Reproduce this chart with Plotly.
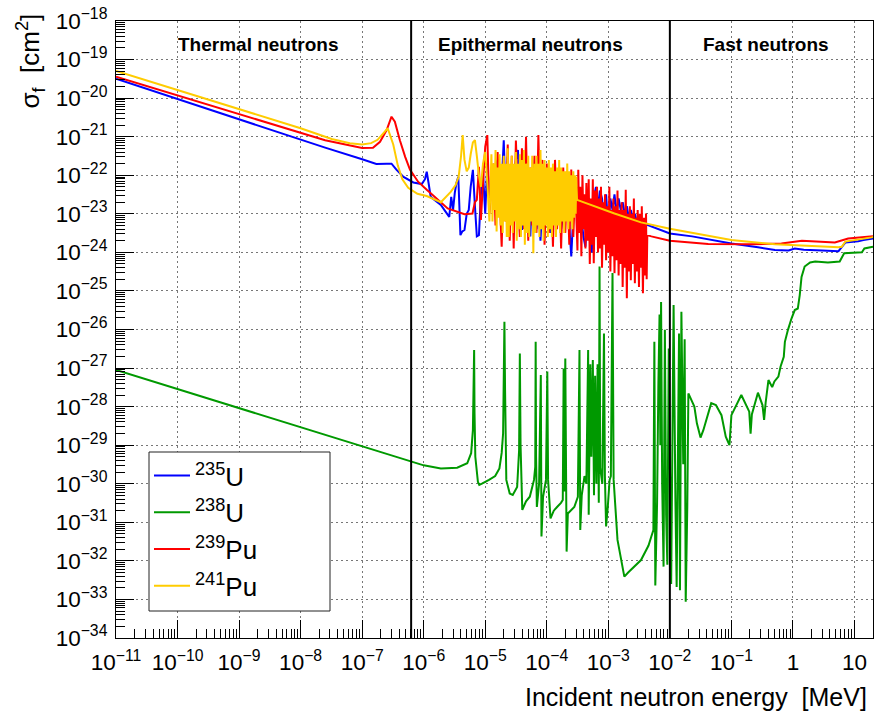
import math
import plotly.graph_objects as go

# ---------------- data ----------------
# energies in MeV, fission cross sections in cm^2
u235_energy = [
    1e-11, 2.5e-8, 1e-7, 1.7e-7, 2.5e-7, 3.0e-7, 3.6e-7, 4.7e-7, 6.8e-7, 9.3e-7,
    1.05e-6, 1.12e-6, 1.2e-6, 1.3e-6, 1.9e-6, 2.6e-6, 2.8e-6, 3.0e-6, 3.2e-6, 3.4e-6,
    3.65e-6, 3.95e-6, 4.25e-6, 4.6e-6, 5.0e-6, 5.4e-6, 5.8e-6, 6.3e-6, 6.8e-6, 7.3e-6, 7.9e-6, 8.5e-6, 9.2e-6,
    1.0e-5, 1.08e-5, 1.17e-5, 1.26e-5, 1.36e-5, 1.47e-5, 1.59e-5, 1.71e-5, 1.85e-5, 2.0e-5,
    2.15e-5, 2.32e-5, 2.5e-5, 2.7e-5, 2.9e-5, 3.15e-5, 3.4e-5, 3.65e-5, 3.95e-5, 4.25e-5,
    4.6e-5, 5.0e-5, 5.4e-5, 5.8e-5, 6.3e-5, 6.8e-5, 7.3e-5, 7.9e-5, 8.5e-5, 9.2e-5,
    1.0e-4, 1.08e-4, 1.17e-4, 1.26e-4, 1.36e-4, 1.47e-4, 1.59e-4, 1.71e-4, 1.85e-4, 2.0e-4,
    2.15e-4, 2.32e-4, 2.5e-4, 2.7e-4, 2.9e-4, 3.15e-4, 3.4e-4, 3.65e-4, 3.95e-4, 4.25e-4,
    4.6e-4, 5.0e-4, 5.4e-4, 5.8e-4, 6.3e-4, 6.8e-4, 7.3e-4, 7.9e-4, 8.5e-4, 9.2e-4,
    1.0e-3, 1.08e-3, 1.17e-3, 1.26e-3, 1.36e-3, 1.47e-3, 1.59e-3, 1.71e-3, 1.85e-3, 2.0e-3,
    2.15e-3, 2.32e-3, 2.5e-3, 2.7e-3, 2.9e-3, 3.15e-3, 3.4e-3, 3.65e-3,
    4.0e-3, 1.0e-2, 2.3e-2, 1.0e-1, 0.27, 0.51, 0.85, 1.07, 1.5, 3.0, 5.5, 6.3, 7.1, 11.5, 14.0, 20.0,
]
u235_xs = [
    3.2e-20, 5.2e-22, 2.6e-22, 1.95e-22, 2.0e-22, 2.0e-22, 1.4e-22, 9.1e-23, 6.5e-23, 5.9e-23,
    7.9e-23, 1.23e-22, 6.3e-23, 2.75e-23, 1.7e-23, 8.3e-24, 2.75e-23, 1.26e-23, 3.5e-23, 6.3e-23,
    9.1e-23, 2.8e-24, 3.5e-24, 3.8e-24, 1.0e-23, 1.26e-23, 5.0e-23, 1.38e-22, 1.58e-23, 2.6e-24, 2.8e-24, 3.2e-23, 1.12e-22,
    1.0e-23, 2.0e-22, 2.5e-23, 4.0e-23, 2.0e-23, 1.58e-22, 2.5e-22, 1.26e-23, 6.3e-23, 8.1e-22,
    2.0e-23, 3.0e-22, 4.6e-24, 1.58e-23, 4.0e-23, 2.5e-22, 4.5e-22, 3.2e-23, 3.8e-24, 1.26e-23,
    1.26e-22, 1.58e-23, 2.6e-24, 5.0e-23, 1.58e-22, 4.0e-24, 1.26e-23, 2.0e-24, 2.0e-23, 6.3e-23,
    1.0e-22, 6.3e-24, 3.2e-24, 2.5e-23, 1.0e-23, 7.9e-23, 2.0e-23, 4.0e-24, 1.0e-23, 5.0e-23,
    1.12e-22, 5.0e-24, 7.8e-25, 1.0e-23, 3.2e-23, 5.0e-23, 6.3e-24, 7.9e-24, 2.5e-24, 1.4e-24,
    1.26e-23, 2.5e-24, 1.0e-24, 2.5e-23, 5.0e-23, 1.58e-23, 4.0e-23, 2.5e-23, 5.0e-24, 3.2e-23,
    4.0e-24, 2.5e-23, 1.26e-23, 3.2e-23, 1.0e-23, 2.5e-23, 1.26e-23, 2.0e-23, 1.0e-23, 1.58e-23,
    7.9e-24, 1.26e-23, 7.1e-24, 1.0e-23, 6.3e-24, 7.9e-24, 5.6e-24, 6.3e-24,
    5.4e-24, 3.1e-24, 2.6e-24, 1.7e-24, 1.35e-24, 1.15e-24, 1.12e-24, 1.26e-24, 1.17e-24, 1.12e-24,
    1.07e-24, 1.4e-24, 1.8e-24, 1.95e-24, 2.1e-24, 2.3e-24,
]

u238_energy = [
    1e-11, 1e-6, 1.9e-6, 3.5e-6, 5.1e-6, 5.9e-6, 6.3e-6, 6.6e-6, 6.7e-6, 6.9e-6,
    7.6e-6, 8.0e-6, 9.0e-6, 1.15e-5, 1.45e-5, 1.7e-5, 1.85e-5, 1.95e-5, 2.05e-5, 2.1e-5,
    2.2e-5, 2.5e-5, 2.8e-5, 3.3e-5, 3.55e-5, 3.65e-5, 3.75e-5, 4.0e-5, 4.6e-5, 5.3e-5,
    6.2e-5, 6.5e-5, 6.6e-5, 6.7e-5, 6.9e-5, 7.5e-5, 8.0e-5, 8.2e-5, 8.7e-5, 9.7e-5,
    1.02e-4, 1.05e-4, 1.15e-4, 1.3e-4, 1.47e-4, 1.7e-4, 1.82e-4, 1.88e-4, 1.92e-4, 2.0e-4,
    2.1e-4, 2.2e-4, 2.8e-4, 3.2e-4, 3.4e-4, 3.5e-4, 3.7e-4, 4.1e-4, 4.4e-4, 4.7e-4,
    4.8e-4, 5.1e-4, 5.3e-4, 5.6e-4, 5.85e-4, 6.1e-4, 6.4e-4, 6.7e-4, 7.0e-4, 7.2e-4,
    7.4e-4, 8.0e-4, 8.5e-4, 8.8e-4, 9.2e-4, 9.8e-4, 1.05e-3, 1.1e-3, 1.17e-3, 1.22e-3,
    1.41e-3, 1.82e-3, 2.1e-3, 3.4e-3, 4.5e-3, 5.0e-3, 5.4e-3, 5.6e-3, 5.8e-3, 6.2e-3,
    6.5e-3, 6.8e-3, 7.0e-3, 7.2e-3, 7.5e-3, 7.9e-3, 8.3e-3, 8.7e-3, 9.1e-3, 9.6e-3,
    1.05e-2, 1.15e-2, 1.23e-2, 1.29e-2, 1.41e-2, 1.46e-2, 1.54e-2, 1.65e-2, 1.74e-2, 1.81e-2,
    1.92e-2, 2.0e-2, 2.5e-2, 2.75e-2, 3.15e-2, 3.5e-2, 4.7e-2, 5.6e-2, 6.9e-2, 8.1e-2,
    9.3e-2, 1.0e-1, 1.45e-1, 1.95e-1, 2.05e-1, 2.15e-1, 2.7e-1, 3.2e-1, 3.4e-1, 3.6e-1,
    4.0e-1, 4.6e-1, 5.0e-1, 5.8e-1, 6.3e-1, 7.1e-1, 7.4e-1, 8.3e-1, 9.5e-1, 1.07,
    1.2, 1.29, 1.38, 1.55, 1.9, 2.3, 3.7, 5.75, 6.8, 13.2, 14.5, 20.0,
]
u238_xs = [
    8.9e-28, 3.0e-30, 2.5e-30, 2.6e-30, 3.4e-30, 6.2e-30, 2.45e-29, 2.95e-27, 6.8e-29, 5.0e-30,
    1.12e-30, 9.3e-31, 1.02e-30, 1.26e-30, 1.58e-30, 2.5e-30, 6.3e-30, 2.0e-29, 1.58e-26, 2.7e-28,
    1.26e-30, 5.6e-31, 5.1e-31, 8.3e-31, 7.4e-30, 2.4e-27, 1.0e-29, 2.1e-31, 3.5e-31, 4.6e-31,
    1.26e-30, 2.75e-30, 4.8e-27, 5.0e-30, 2.5e-31, 1.0e-30, 6.6e-28, 4.3e-32, 4.6e-31, 1.26e-30,
    8.1e-28, 1.26e-30, 1.26e-31, 2.0e-31, 2.5e-31, 3.2e-31, 3.8e-31, 9.8e-28, 6.3e-31, 1.78e-27,
    1.74e-32, 1.7e-31, 2.5e-31, 4.6e-31, 2.95e-27, 6.3e-32, 5.0e-31, 1.58e-30, 1.0e-30, 2.95e-27,
    1.58e-31, 1.26e-27, 5.0e-30, 1.62e-27, 5.0e-31, 6.3e-28, 1.0e-30, 1.26e-27, 3.2e-31, 4.3e-25,
    2.5e-30, 1.0e-30, 7.9e-27, 1.58e-30, 7.8e-32, 2.5e-31, 1.26e-30, 1.58e-30, 2.9e-25, 1.26e-30,
    3.5e-32, 3.9e-33, 5.0e-33, 1.05e-32, 2.5e-32, 4.3e-32, 6.3e-32, 4.8e-27, 2.3e-33, 3.2e-31,
    3.2e-28, 2.45e-26, 1.0e-29, 5.2e-26, 1.0e-30, 7.1e-33, 9.8e-27, 1.58e-31, 7.9e-33, 3.2e-27,
    2.5e-33, 4.3e-26, 4.0e-31, 2.1e-33, 7.9e-27, 1.74e-33, 2.9e-26, 3.2e-30, 5.6e-27, 8.7e-34,
    2.5e-31, 2.2e-28, 1.0e-28, 3.7e-29, 1.58e-29, 2.45e-29, 1.23e-28, 1.1e-28, 6.0e-29, 1.66e-29,
    1.0e-29, 6.0e-29, 2.0e-28, 7.4e-29, 2.0e-29, 6.3e-29, 2.3e-28, 1.1e-28, 4.5e-29, 1.26e-28,
    4.9e-28, 3.2e-28, 4.5e-28, 6.0e-28, 1.1e-27, 1.95e-27, 4.8e-27, 9.8e-27, 1.95e-26, 3.2e-26,
    3.5e-26, 7.8e-26, 2.3e-25, 4.3e-25, 5.5e-25, 5.8e-25, 5.5e-25, 5.8e-25, 9.5e-25, 1.0e-24, 1.26e-24, 1.4e-24,
]

pu239_energy = [
    1e-11, 2.5e-8, 1e-7, 1.5e-7, 1.95e-7, 2.5e-7, 3.0e-7, 3.4e-7, 4.1e-7, 5.0e-7,
    6.0e-7, 8.1e-7, 1.12e-6, 1.3e-6, 2.45e-6, 4.6e-6, 6.2e-6, 6.8e-6,
    7.3e-6, 7.9e-6, 8.5e-6, 9.2e-6,
    1.0e-5, 1.08e-5, 1.17e-5, 1.26e-5, 1.36e-5, 1.47e-5, 1.59e-5, 1.71e-5, 1.85e-5, 2.0e-5,
    2.15e-5, 2.32e-5, 2.5e-5, 2.7e-5, 2.9e-5, 3.15e-5, 3.4e-5, 3.65e-5, 3.95e-5, 4.25e-5,
    4.6e-5, 5.0e-5, 5.4e-5, 5.8e-5, 6.3e-5, 6.8e-5, 7.3e-5, 7.9e-5, 8.5e-5, 9.2e-5,
    1.0e-4, 1.08e-4, 1.17e-4, 1.26e-4, 1.36e-4, 1.47e-4, 1.59e-4, 1.71e-4, 1.85e-4, 2.0e-4,
    2.15e-4, 2.32e-4, 2.5e-4, 2.7e-4, 2.9e-4,
    3.15e-4, 3.25e-4, 3.4e-4, 3.5e-4, 3.65e-4, 3.8e-4, 3.95e-4, 4.1e-4, 4.25e-4, 4.4e-4,
    4.6e-4, 4.8e-4, 5.0e-4, 5.2e-4, 5.4e-4, 5.6e-4, 5.8e-4, 6.05e-4, 6.3e-4, 6.55e-4,
    6.8e-4, 7.05e-4, 7.3e-4, 7.6e-4, 7.9e-4, 8.2e-4, 8.5e-4, 8.85e-4, 9.2e-4, 9.6e-4,
    1.0e-3, 1.04e-3, 1.08e-3, 1.12e-3, 1.17e-3, 1.21e-3, 1.26e-3, 1.31e-3, 1.36e-3, 1.41e-3,
    1.47e-3, 1.53e-3, 1.59e-3, 1.65e-3, 1.71e-3, 1.78e-3, 1.85e-3, 1.92e-3, 2.0e-3, 2.07e-3,
    2.15e-3, 2.24e-3, 2.32e-3, 2.41e-3, 2.5e-3, 2.6e-3, 2.7e-3, 2.8e-3, 2.9e-3, 3.0e-3,
    3.15e-3, 3.25e-3, 3.4e-3, 3.5e-3, 3.65e-3, 3.8e-3, 3.95e-3, 4.1e-3, 4.2e-3, 4.3e-3,
    5.0e-3, 1.0e-2, 4.2e-2, 0.21, 0.65, 1.4, 4.8, 7.9, 20.0,
]
pu239_xs = [
    3.6e-20, 8.1e-22, 5.1e-22, 5.2e-22, 7.4e-22, 1.48e-21, 3.3e-21, 2.45e-21, 8.1e-22, 3.0e-22,
    1.38e-22, 6.8e-23, 4.2e-23, 3.4e-23, 1.38e-23, 9.8e-24, 1.02e-23, 2.0e-23,
    2.3e-23, 1.66e-22, 6.9e-24, 6.3e-23,
    5.5e-22, 1.1e-21, 1.0e-23, 5.0e-23, 2.0e-22, 5.0e-24, 4.0e-22, 3.2e-23, 1.4e-24, 2.5e-22,
    6.3e-24, 6.3e-22, 2.0e-24, 3.2e-22, 1.26e-24, 7.9e-22, 2.5e-23, 2.5e-24, 5.0e-22, 4.0e-24,
    1.0e-21, 2.0e-24, 1.58e-22, 5.0e-24, 3.2e-22, 3.2e-24, 1.1e-21, 6.3e-24, 2.5e-22, 1.58e-24,
    2.0e-22, 3.2e-24, 1.26e-22, 1.4e-24, 2.5e-22, 4.0e-24, 1.0e-22, 1.26e-24, 1.58e-22, 3.2e-24,
    7.9e-23, 1.58e-24, 1.4e-22, 2.5e-24, 6.3e-23,
    1.12e-24, 1.38e-22, 3.2e-24, 5.0e-23, 7.9e-25, 1.0e-22, 4.0e-24, 3.2e-23, 1.26e-24, 6.3e-23,
    2.0e-24, 7.9e-23, 5.0e-25, 2.5e-23, 1.58e-24, 7.9e-23, 5.2e-25, 4.0e-23, 2.5e-24, 5.0e-23,
    1.0e-24, 2.5e-23, 1.26e-24, 5.0e-23, 4.0e-25, 2.0e-23, 1.58e-24, 3.2e-23, 6.3e-25, 1.58e-23,
    1.0e-24, 5.0e-23, 3.2e-25, 1.26e-23, 7.9e-25, 2.5e-23, 2.9e-25, 1.58e-23, 6.3e-25, 4.0e-23,
    2.5e-25, 1.26e-23, 5.0e-25, 2.0e-23, 1.26e-25, 1.26e-23, 4.0e-25, 4.2e-23, 6.5e-26, 1.0e-23,
    3.2e-25, 1.58e-23, 1.9e-25, 1.0e-23, 5.0e-25, 2.5e-23, 1.58e-25, 7.9e-24, 3.2e-25, 1.26e-23,
    1.26e-25, 1.0e-23, 4.0e-25, 1.58e-23, 8.7e-26, 7.9e-24, 2.5e-25, 1.02e-23, 2.0e-25, 2.8e-24,
    2.6e-24, 2.0e-24, 1.66e-24, 1.62e-24, 1.7e-24, 2.0e-24, 1.8e-24, 2.3e-24, 2.6e-24,
]

pu241_energy = [
    1e-11, 1e-8, 3.2e-8, 6.3e-8, 1e-7, 1.4e-7, 1.78e-7, 2.24e-7, 2.6e-7, 3.2e-7,
    3.8e-7, 4.5e-7, 5.6e-7, 7.9e-7, 1.12e-6, 1.9e-6, 2.75e-6, 3.3e-6, 3.7e-6, 4.05e-6,
    4.3e-6, 4.6e-6, 5.0e-6, 5.4e-6, 5.8e-6, 6.3e-6, 6.8e-6, 7.3e-6, 7.9e-6, 8.5e-6, 9.2e-6,
    1.0e-5, 1.08e-5, 1.17e-5,
    1.26e-5, 1.31e-5, 1.36e-5, 1.41e-5, 1.47e-5, 1.53e-5, 1.59e-5, 1.65e-5, 1.71e-5, 1.78e-5,
    1.85e-5, 1.92e-5, 2.0e-5, 2.07e-5, 2.15e-5, 2.24e-5, 2.32e-5, 2.41e-5, 2.5e-5, 2.6e-5,
    2.7e-5, 2.8e-5, 2.9e-5, 3.0e-5, 3.15e-5, 3.25e-5, 3.4e-5, 3.5e-5, 3.65e-5, 3.8e-5,
    3.95e-5, 4.1e-5, 4.25e-5, 4.4e-5, 4.6e-5, 4.8e-5, 5.0e-5, 5.2e-5, 5.4e-5, 5.6e-5,
    5.8e-5, 6.05e-5, 6.3e-5, 6.55e-5, 6.8e-5, 7.05e-5, 7.3e-5, 7.6e-5, 7.9e-5, 8.2e-5,
    8.5e-5, 8.85e-5, 9.2e-5, 9.6e-5, 1.0e-4, 1.04e-4, 1.08e-4, 1.12e-4, 1.17e-4, 1.21e-4,
    1.26e-4, 1.31e-4, 1.36e-4, 1.41e-4, 1.47e-4, 1.53e-4, 1.59e-4, 1.65e-4, 1.71e-4, 1.78e-4,
    1.85e-4, 1.92e-4, 2.0e-4, 2.07e-4, 2.15e-4, 2.24e-4, 2.32e-4, 2.41e-4, 2.5e-4, 2.6e-4,
    2.7e-4, 2.8e-4, 2.9e-4, 2.95e-4, 3.0e-4, 3.1e-4,
    1.26e-3, 3.4e-3, 1e-2, 0.1, 0.51, 5.5, 6.2, 7.1, 19.0, 20.0,
]
pu241_xs = [
    5.1e-20, 1.66e-21, 8.7e-22, 6.8e-22, 6.3e-22, 6.8e-22, 8.3e-22, 1.26e-21, 1.66e-21, 6.3e-22,
    1.78e-22, 7.9e-23, 4.7e-23, 3.3e-23, 2.9e-23, 2.0e-23, 3.7e-23, 5.6e-23, 9.1e-23, 3.2e-22,
    1.1e-21, 2.5e-22, 1.26e-22, 1.58e-22, 3.5e-22, 7.1e-22, 8.1e-22, 3.2e-22, 1.0e-22, 5.0e-23, 2.0e-22,
    4.0e-22, 6.3e-23, 6.3e-24,
    3.5e-22, 6.3e-24, 2.0e-22, 1.26e-23, 4.5e-22, 3.5e-24, 1.58e-22, 7.9e-24, 3.5e-22, 5.0e-24,
    2.0e-22, 3.2e-24, 3.2e-22, 6.3e-24, 2.0e-22, 2.5e-24, 5.0e-22, 2.5e-24, 2.0e-22, 5.0e-24,
    3.2e-22, 3.2e-24, 2.0e-22, 6.3e-24, 4.0e-22, 2.0e-24, 2.0e-22, 4.0e-24, 3.5e-22, 2.5e-24,
    2.5e-22, 5.0e-24, 4.5e-22, 1.58e-24, 2.0e-22, 3.2e-24, 3.2e-22, 2.5e-24, 1.58e-22, 6.3e-24,
    3.2e-22, 9.5e-25, 2.0e-22, 3.2e-24, 3.2e-22, 5.0e-24, 2.0e-22, 2.5e-24, 4.5e-22, 4.0e-24,
    2.0e-22, 2.0e-24, 2.5e-22, 5.0e-24, 1.58e-22, 2.5e-24, 2.5e-22, 4.0e-24, 1.58e-22, 2.5e-24,
    2.0e-22, 5.0e-24, 1.26e-22, 2.5e-24, 1.58e-22, 5.0e-24, 2.5e-22, 3.2e-24, 1.58e-22, 6.3e-24,
    1.26e-22, 3.2e-24, 1.26e-22, 6.3e-24, 2.0e-22, 4.0e-24, 1.26e-22, 6.3e-24, 1.0e-22, 4.0e-24,
    1.26e-22, 7.9e-24, 1.0e-22, 1.0e-23, 9.1e-23, 2.3e-23,
    1.02e-23, 6.0e-24, 4.1e-24, 2.1e-24, 1.62e-24, 1.35e-24, 1.4e-24, 1.9e-24, 2.45e-24, 2.5e-24,
]

series_names = ["<sup>235</sup>U", "<sup>238</sup>U", "<sup>239</sup>Pu", "<sup>241</sup>Pu"]
region_labels = ["Thermal neutrons", "Epithermal neutrons", "Fast neutrons"]
region_label_energy = [2.0e-9, 5.5e-5, 0.36]
region_bounds = [6.25e-7, 1.0e-2]   # MeV
y_span = [1e-34, 1e-18]

# ---------------- figure ----------------
colors = ["#0000ff", "#009900", "#ff0000", "#ffcc00"]
fig = go.Figure()
for name, ex, ys, c in zip(series_names,
                           [u235_energy, u238_energy, pu239_energy, pu241_energy],
                           [u235_xs, u238_xs, pu239_xs, pu241_xs], colors):
    fig.add_trace(go.Scatter(x=ex, y=ys, mode="lines", name=name,
                             line=dict(color=c, width=2, simplify=False)))

for xb in region_bounds:
    fig.add_trace(go.Scatter(x=[xb, xb], y=y_span, mode="lines", showlegend=False,
                             line=dict(color="black", width=2), hoverinfo="skip"))

font_family = "Liberation Sans, Arial, Helvetica, sans-serif"
axis_common = dict(
    type="log", dtick=1, exponentformat="power",
    tickfont=dict(size=18, color="black", family=font_family),
    ticks="inside", ticklen=18, tickwidth=1, tickcolor="black",
    showline=True, linecolor="black", linewidth=1, mirror=True,
    showgrid=True, gridcolor="#777777", griddash="2px,3px", gridwidth=1,
    zeroline=False,
    minor=dict(ticks="inside", ticklen=9, tickcolor="black", tickwidth=1,
               dtick="D1", showgrid=False),
)
fig.update_xaxes(range=[-11, 1.301], ticklabelstandoff=5, **axis_common)
fig.update_yaxes(range=[-34, -18], ticklabelstandoff=4, **axis_common)

annotations = []
for lab, xe in zip(region_labels, region_label_energy):
    annotations.append(dict(x=math.log10(xe), y=0.962, xref="x", yref="paper",
                            text="<b>%s</b>" % lab, showarrow=False,
                            font=dict(size=19, family=font_family, color="black"),
                            xanchor="center", yanchor="middle"))
annotations.append(dict(x=(30 - 116) / 757, y=1 + (21 - 12) / 617, xref="paper", yref="paper",
                        text="σ<sub>f</sub>&nbsp; [cm<sup>2</sup>]", textangle=-90,
                        showarrow=False, xanchor="center", yanchor="top",
                        font=dict(size=26, family=font_family, color="black")))
annotations.append(dict(x=(869 - 116) / 757, y=(638 - 697) / 617, xref="paper", yref="paper",
                        text="Incident neutron energy&nbsp; [MeV]", showarrow=False,
                        xanchor="right", yanchor="middle",
                        font=dict(size=25, family=font_family, color="black")))

# legend frame (box drawn behind the legend entries)
legend_box = dict(type="rect", xref="paper", yref="paper",
                  x0=(149 - 116) / 757, x1=(330 - 116) / 757,
                  y0=(638 - 611) / 617, y1=(638 - 452) / 617,
                  fillcolor="white", line=dict(color="#222222", width=1), layer="above")

fig.update_layout(
    width=876, height=716,
    margin=dict(l=116, r=3, t=21, b=78),
    plot_bgcolor="white", paper_bgcolor="white",
    font=dict(family=font_family, color="black"),
    annotations=annotations,
    shapes=[legend_box],
    showlegend=True,
    legend=dict(x=(149 - 116) / 757, y=(638 - 452) / 617, xanchor="left", yanchor="top",
                bgcolor="rgba(0,0,0,0)", borderwidth=0,
                font=dict(size=26, family=font_family, color="black"),
                itemwidth=36, tracegroupgap=0),
)

fig.write_html("out.html")
